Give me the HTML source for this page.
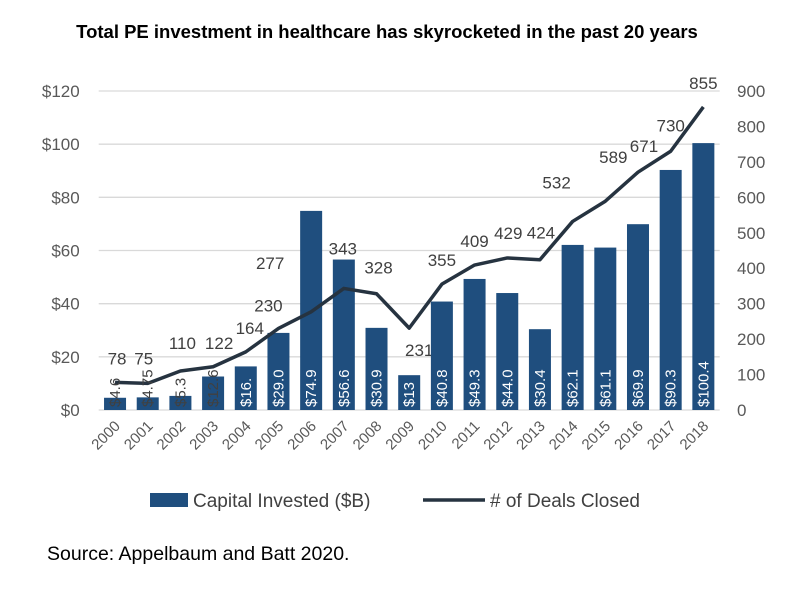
<!DOCTYPE html>
<html><head><meta charset="utf-8"><style>
body{margin:0;background:#fff;}
svg text{font-family:"Liberation Sans",sans-serif;}
</style></head><body>
<svg width="805" height="589" viewBox="0 0 805 589" id="chart">
<text x="387" y="38" text-anchor="middle" font-size="18.5" font-weight="bold" fill="#000">Total PE investment in healthcare has skyrocketed in the past 20 years</text>
<g id="grid"></g><g id="dlabels"></g><g id="bars"></g><g id="line"></g><g id="labels"></g><g id="axes"></g>
<g>
<rect x="150" y="493" width="38" height="14" fill="#1f4e7e"/>
<text x="193" y="507" font-size="19" fill="#404040">Capital Invested ($B)</text>
<line x1="423" y1="500" x2="485" y2="500" stroke="#263340" stroke-width="3.5"/>
<text x="490" y="507" font-size="19" fill="#404040"># of Deals Closed</text>
</g>
<text x="47" y="560" font-size="19.5" fill="#000">Source: Appelbaum and Batt 2020.</text>
</svg>
<script>
const years=["2000","2001","2002","2003","2004","2005","2006","2007","2008","2009","2010","2011","2012","2013","2014","2015","2016","2017","2018"];
const capital=[4.6,4.75,5.3,12.6,16.4,29.0,74.9,56.6,30.9,13.1,40.8,49.3,44.0,30.4,62.1,61.1,69.9,90.3,100.4];
const capitalLabels=["$4.6","$4.75","$5.3","$12.6","$16.","$29.0","$74.9","$56.6","$30.9","$13","$40.8","$49.3","$44.0","$30.4","$62.1","$61.1","$69.9","$90.3","$100.4"];
const deals=[78,75,110,122,164,230,277,343,328,231,355,409,429,424,532,589,671,730,855];
const leftTicks=[0,20,40,60,80,100,120];
const rightTicks=[0,100,200,300,400,500,600,700,800,900];
const labelDx=[2,-4,2,6,4,-10,-41,-1,2,10,0,0,1,1,-16,8,6,0,0];
const labelDy=[-24,-25,-28,-24,-24,-23,-49,-40,-26,22,-24,-24,-25,-27,-39,-44,-26,-26,-24];
const NS="http://www.w3.org/2000/svg";
const L=98.7,R=719.7,T=91,B=410;
const step=(R-L)/years.length;
const xC=i=>L+step*(i+0.5);
const yL=v=>B-v/120*(B-T);
const yR=v=>B-v/900*(B-T);
function mk(tag,attrs,parent,text){const e=document.createElementNS(NS,tag);for(const k in attrs)e.setAttribute(k,attrs[k]);if(text!==undefined)e.textContent=text;document.getElementById(parent).appendChild(e);return e;}
leftTicks.forEach(t=>{
 const g=mk('line',{x1:L,x2:R,y1:yL(t),y2:yL(t),stroke:'#d9d9d9','stroke-width':1.3},'grid');
 
 
 const tx=mk('text',{x:L-19,y:yL(t)+6,'text-anchor':'end','font-size':17,fill:'#595959'},'axes','$'+t);
 
 
});
rightTicks.forEach(t=>{
 const tx=mk('text',{x:737,y:yR(t)+6,'font-size':17,fill:'#595959'},'axes',String(t));
 
 
});
years.forEach((y,i)=>{
 const bw=22,x=xC(i);
 const r=mk('rect',{x:x-bw/2,y:yL(capital[i]),width:bw,height:B-yL(capital[i]),fill:'#1f4e7e'},'bars');
 
 
 const dark=capital[i]<14&&i<4;
 const bl=mk('text',{x:0,y:0,'font-size':15,fill:dark?'#404040':'#fff',transform:`translate(${x+5},${B-3}) rotate(-90)`},'labels',capitalLabels[i]);
 
 
 const xl=mk('text',{x:0,y:0,'font-size':15,fill:'#595959','text-anchor':'end',transform:`translate(${x+6},${B+17}) rotate(-45)`},'axes',y);
 
 
});
const pts=deals.map((d,i)=>xC(i)+','+yR(d)).join(' ');
const pl=mk('polyline',{points:pts,fill:'none',stroke:'#263340','stroke-width':3.5,'stroke-linejoin':'round'},'line');


deals.forEach((d,i)=>{
 const t=mk('text',{x:xC(i)+labelDx[i],y:yR(d)+labelDy[i]+6,'text-anchor':'middle','font-size':17,fill:'#404040'},'dlabels',String(d));
 
 
});
</script>
</body></html>
